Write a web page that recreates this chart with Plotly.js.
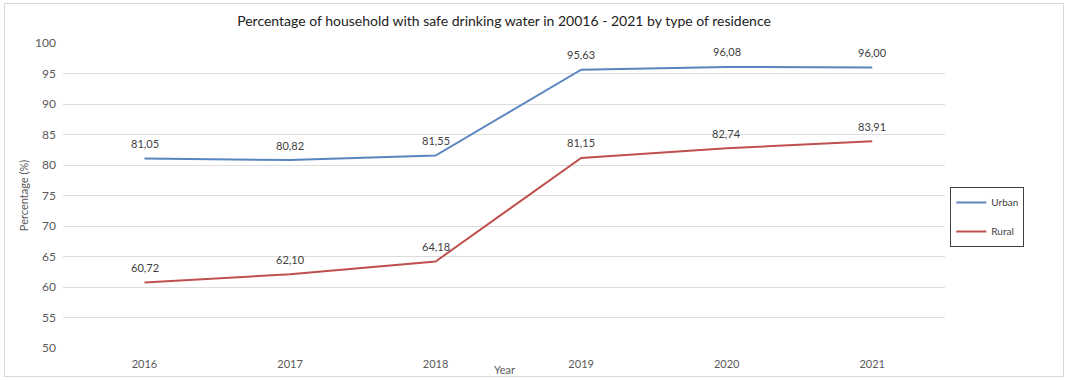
<!DOCTYPE html>
<html>
<head>
<meta charset="utf-8">
<script src="https://cdn.plot.ly/plotly-3.0.1.min.js"></script>
<style>
html,body{margin:0;padding:0;background:#fff;}
#wrap{position:relative;width:1067px;height:380px;}
#chart{position:absolute;left:0;top:0;width:1067px;height:380px;}
#frame{position:absolute;left:4px;top:3px;width:1058px;height:372px;border:1px solid #d9d9d9;pointer-events:none;}
</style>
</head>
<body>
<div id="wrap"><div id="chart"></div><div id="frame"></div></div>
<script>
const years = ["2016", "2017", "2018", "2019", "2020", "2021"];
const urban = [81.05, 80.82, 81.55, 95.63, 96.08, 96.00];
const rural = [60.72, 62.10, 64.18, 81.15, 82.74, 83.91];
const yTicks = [50, 55, 60, 65, 70, 75, 80, 85, 90, 95, 100];

const fmt = v => v.toFixed(2).replace('.', ',');
const FONT = 'Lato, "Open Sans", sans-serif';

const traces = [
  {x: years, y: urban, name: 'Urban', type: 'scatter', mode: 'lines',
   line: {color: '#5a86bf', width: 2}, legendgroup: 'a'},
  {x: years, y: rural, name: 'Rural', type: 'scatter', mode: 'lines',
   line: {color: '#bf504d', width: 2}, legendgroup: 'b'}
];

function labelAnn(ys) {
  return ys.map(function (v, i) {
    return {
      x: i, y: v, xref: 'x', yref: 'y', text: fmt(v), showarrow: false,
      yshift: 15, xanchor: 'center', yanchor: 'middle',
      font: {size: 11, color: '#404040'}
    };
  });
}

const layout = {
  width: 1067, height: 380,
  margin: {l: 63, r: 122, t: 43, b: 32},
  paper_bgcolor: '#fff', plot_bgcolor: '#fff',
  font: {family: FONT, color: '#595959'},
  title: {text: 'Percentage of household with safe drinking water in 20016 - 2021 by type of residence',
          font: {family: FONT, size: 14, color: '#222'}, x: 0.5, xanchor: 'center', y: 0.945, yanchor: 'middle', xref: 'paper'},
  xaxis: {type: 'category', range: [-0.56, 5.5], showgrid: false, zeroline: false, showline: false,
          ticks: '', tickfont: {size: 11, color: '#595959'}, ticklabelstandoff: 8},
  yaxis: {range: [50, 100], tickvals: yTicks, showgrid: true, gridcolor: '#dcdcdc', gridwidth: 1,
          zeroline: false, showline: false, ticks: '', tickfont: {size: 12, color: '#595959'},
          ticklabelstandoff: 6,
          title: {text: 'Percentage (%)', font: {size: 11, color: '#595959'}, standoff: 4}},
  showlegend: true,
  legend: {x: 1.006, xanchor: 'left', y: 0.528, yanchor: 'top',
           bordercolor: '#404040', borderwidth: 1, bgcolor: '#fff',
           font: {size: 10, color: '#404040'}, tracegroupgap: 10, traceorder: 'grouped', itemwidth: 30},
  annotations: [
    {text: 'Year', xref: 'paper', yref: 'paper', x: (505 - 63) / 882, y: -0.072, xanchor: 'center', yanchor: 'middle',
     showarrow: false, font: {size: 11, color: '#595959'}}
  ].concat(labelAnn(urban), labelAnn(rural))
};

Plotly.newPlot('chart', traces, layout, {displayModeBar: false, staticPlot: true});
</script>
</body>
</html>
